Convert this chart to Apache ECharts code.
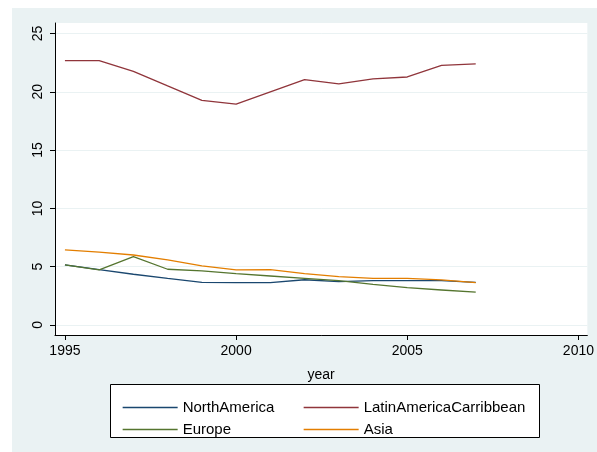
<!DOCTYPE html>
<html>
<head>
<meta charset="utf-8">
<script src="https://cdn.jsdelivr.net/npm/echarts@6/dist/echarts.min.js"></script>
<style>
  html, body { margin: 0; padding: 0; background: #ffffff; }
  #chart { width: 597px; height: 452px; }
</style>
</head>
<body>
<div id="chart"></div>
<script>
// Regional series by year
const years = [1995, 1996, 1997, 1998, 1999, 2000, 2001, 2002, 2003, 2004, 2005, 2006, 2007];
const northAmerica = [5.15, 4.74, 4.35, 4.0, 3.66, 3.63, 3.63, 3.88, 3.72, 3.8, 3.8, 3.8, 3.66];
const latinAmericaCarribbean = [22.68, 22.68, 21.75, 20.5, 19.27, 18.95, 20.0, 21.05, 20.67, 21.1, 21.27, 22.27, 22.4];
const europe = [5.15, 4.72, 5.87, 4.78, 4.64, 4.4, 4.2, 4.0, 3.81, 3.49, 3.2, 3.0, 2.81];
const asia = [6.44, 6.24, 6.0, 5.58, 5.07, 4.72, 4.75, 4.4, 4.15, 4.0, 4.0, 3.87, 3.64];

// Axis tick labels
const xTicks = [1995, 2000, 2005, 2010];
const yTicks = [0, 5, 10, 15, 20, 25];

const names = ['NorthAmerica', 'LatinAmericaCarribbean', 'Europe', 'Asia'];
const colors = ['#1a476f', '#90353b', '#55752f', '#e37e00'];
const values = [northAmerica, latinAmericaCarribbean, europe, asia];

const font = 'Liberation Sans, Arial, sans-serif';

const chart = echarts.init(document.getElementById('chart'), null, { renderer: 'canvas' });

const series = names.map((name, i) => ({
  name: name,
  type: 'line',
  data: years.map((y, j) => [y, values[i][j]]),
  symbol: 'none',
  lineStyle: { color: colors[i], width: 1.3 },
  itemStyle: { color: colors[i] },
  z: 3,
  animation: false
}));

const legendBase = {
  orient: 'vertical',
  itemWidth: 55,
  itemHeight: 14,
  itemGap: 7,
  selectedMode: false,
  itemStyle: { opacity: 0 },
  lineStyle: { width: 1.3 },
  textStyle: { fontFamily: font, fontSize: 15, color: '#000', padding: [0, 0, 0, 0] }
};

chart.setOption({
  backgroundColor: '#eaf2f3',
  animation: false,
  graphic: [
    { type: 'rect', shape: { x: 0, y: 0, width: 597, height: 8 }, style: { fill: '#ffffff' }, silent: true },
    { type: 'rect', shape: { x: 0, y: 0, width: 12, height: 452 }, style: { fill: '#ffffff' }, silent: true },
    { type: 'rect', shape: { x: 110.5, y: 384.5, width: 429, height: 53 },
      style: { fill: '#ffffff', stroke: '#000000', lineWidth: 1 }, silent: true }
  ],
  grid: {
    left: 55, right: 5, top: 23, bottom: 117,
    show: true, backgroundColor: '#ffffff', borderWidth: 0
  },
  xAxis: {
    type: 'value',
    min: 1994.71, max: 2010.26,
    name: 'year',
    nameLocation: 'middle',
    nameGap: 33,
    nameTextStyle: { fontFamily: font, fontSize: 14, color: '#000' },
    axisLine: { show: true, onZero: false, lineStyle: { color: '#000', width: 1 } },
    axisTick: { show: true, length: 5, customValues: xTicks, lineStyle: { color: '#000' } },
    axisLabel: {
      customValues: xTicks, margin: 9, fontFamily: font, fontSize: 14, color: '#000',
      formatter: v => String(v)
    },
    splitLine: { show: false }
  },
  yAxis: {
    type: 'value',
    min: -0.86, max: 25.9,
    axisLine: { show: true, onZero: false, lineStyle: { color: '#000', width: 1 } },
    axisTick: { show: true, length: 5, customValues: yTicks, lineStyle: { color: '#000' } },
    axisLabel: { customValues: yTicks, rotate: 90, margin: 10, fontFamily: font, fontSize: 14, color: '#000' },
    splitLine: { show: true, lineStyle: { color: '#eaf2f3', width: 1 } }
  },
  legend: [
    Object.assign({}, legendBase, { left: 117, top: 395, data: ['NorthAmerica', 'Europe'] }),
    Object.assign({}, legendBase, { left: 298, top: 395, data: ['LatinAmericaCarribbean', 'Asia'] })
  ],
  series: series
});
</script>
</body>
</html>
